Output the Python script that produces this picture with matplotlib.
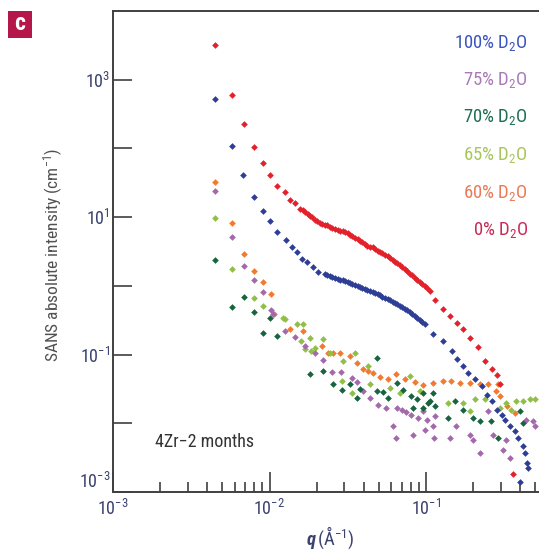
import matplotlib
matplotlib.use("Agg")
import matplotlib.pyplot as plt
from matplotlib import font_manager
from matplotlib.patches import Rectangle
from matplotlib.ticker import NullLocator

# ---------------------------------------------------------------------------
# data: q in 1/Angstrom, intensity in 1/cm
# ---------------------------------------------------------------------------

q_0 = [0.00449, 0.00574, 0.0069, 0.00796, 0.00912, 0.0101, 0.0111, 0.0126, 0.0135, 0.0146,
       0.0157, 0.0163, 0.0169, 0.0175, 0.0181, 0.0188, 0.0195, 0.0202, 0.0210, 0.0218,
       0.0226, 0.0234, 0.0243, 0.0252, 0.0262, 0.0272, 0.0282, 0.0293, 0.0304, 0.0315,
       0.0327, 0.0339, 0.0352, 0.0365, 0.0378, 0.0392, 0.0407, 0.0422, 0.0438, 0.0455,
       0.0472, 0.0490, 0.0508, 0.0527, 0.0547, 0.0568, 0.0589, 0.0611, 0.0633, 0.0657,
       0.0680, 0.0706, 0.0733, 0.0760, 0.0788, 0.0818, 0.0848, 0.0881, 0.0913, 0.0948,
       0.0983, 0.102, 0.106,
       0.114, 0.128, 0.142, 0.158, 0.172, 0.191, 0.215, 0.238, 0.264, 0.284, 0.297, 0.360]
i_0 = [3220, 594, 224, 104, 61, 41.7, 28.8, 23.0, 18.0, 15.9,
       13.3, 12.9, 12.0, 11.0, 10.5, 9.9, 9.20, 8.9, 8.31, 7.9,
       7.78, 7.6, 7.27, 7.0, 6.79, 6.6, 6.35, 6.3, 6.14, 5.8,
       5.55, 5.3, 5.02, 4.8, 4.54, 4.4, 4.10, 3.85, 3.71, 3.62,
       3.47, 3.25, 3.13, 3.0, 2.84, 2.72, 2.56, 2.38, 2.24, 2.15,
       2.03, 1.88, 1.77, 1.62, 1.50, 1.42, 1.31, 1.22, 1.14, 1.08,
       1.00, 0.93, 0.845,
       0.625, 0.461, 0.365, 0.288, 0.236, 0.174, 0.129, 0.080, 0.0614, 0.0502, 0.0371, 0.0018]

q_100 = [0.00449, 0.00574, 0.0068, 0.00791, 0.00905, 0.0101, 0.0111, 0.0128, 0.0139, 0.0149,
         0.0161, 0.0173, 0.0190, 0.0204,
         0.0226, 0.0234, 0.0243, 0.0252, 0.0262, 0.0272, 0.0282, 0.0293, 0.0304, 0.0315,
         0.0327, 0.0339, 0.0352, 0.0365, 0.0378, 0.0392, 0.0407, 0.0422, 0.0438, 0.0455,
         0.0472, 0.0490, 0.0508, 0.0527, 0.0547, 0.0568, 0.0589, 0.0611, 0.0633, 0.0657,
         0.0680, 0.0706, 0.0733, 0.0760, 0.0788, 0.0818, 0.0848, 0.0881, 0.0913, 0.0948, 0.0983,
         0.111, 0.129, 0.146, 0.157, 0.173, 0.186, 0.206, 0.227, 0.244, 0.263, 0.283,
         0.305, 0.320, 0.344, 0.370, 0.389, 0.418, 0.429, 0.440, 0.450, 0.399]
i_100 = [519, 108, 40.4, 19.9, 12.4, 8.69, 6.00, 4.65, 3.62, 3.06,
         2.45, 2.19, 1.85, 1.60,
         1.50, 1.46, 1.40, 1.34, 1.31, 1.27, 1.22, 1.20, 1.18, 1.13,
         1.11, 1.08, 1.03, 0.99, 0.966, 0.94, 0.904, 0.87, 0.845, 0.82,
         0.791, 0.76, 0.740, 0.70, 0.668, 0.645, 0.625, 0.59, 0.565, 0.54,
         0.511, 0.485, 0.461, 0.44, 0.417, 0.39, 0.365, 0.34, 0.319, 0.30, 0.279,
         0.201, 0.157, 0.112, 0.0851, 0.0679, 0.0542, 0.0435, 0.0347, 0.0262, 0.0209, 0.0158,
         0.0134, 0.0113, 0.00904, 0.00764, 0.00610, 0.00461, 0.00368, 0.00263, 0.00222, 0.00142]

q_75 = [0.00449, 0.00574, 0.00687, 0.00796, 0.00912, 0.0102, 0.0106, 0.0126, 0.0145, 0.0169,
        0.0195, 0.0219, 0.0249, 0.0285, 0.0335, 0.0362, 0.0398, 0.0438, 0.0495, 0.0559,
        0.0617, 0.0640, 0.0648, 0.0698, 0.0746, 0.0800, 0.0827, 0.0890, 0.0959, 0.0983,
        0.101, 0.111, 0.112, 0.114, 0.142, 0.156, 0.190, 0.200, 0.220, 0.249,
        0.268, 0.310, 0.326, 0.342, 0.437, 0.483, 0.495]
i_75 = [24.4, 5.07, 1.96, 1.21, 0.826, 0.447, 0.390, 0.220, 0.180, 0.133,
        0.105, 0.0822, 0.0560, 0.0565, 0.0458, 0.0397, 0.0293, 0.0234, 0.0187, 0.0167,
        0.00904, 0.00610, 0.0167, 0.0158, 0.0144, 0.0134, 0.00684, 0.0119, 0.0150, 0.00800,
        0.0113, 0.00904, 0.00610, 0.0127, 0.00610, 0.00904, 0.00684, 0.00578, 0.00368, 0.0150,
        0.00684, 0.00413, 0.00578, 0.00311, 0.0113, 0.0107, 0.00904]

q_70 = [0.00449, 0.00574, 0.00687, 0.00796, 0.00912, 0.0101, 0.0111, 0.0181, 0.0219, 0.0256,
        0.0289, 0.0327, 0.0361, 0.0378, 0.0484, 0.0485, 0.0529, 0.0573, 0.0648, 0.0716,
        0.0802, 0.0827, 0.0870, 0.0959, 0.0962, 0.103, 0.106, 0.111, 0.114, 0.138,
        0.153, 0.172, 0.200, 0.220, 0.262, 0.288, 0.397, 0.417]
i_70 = [2.37, 0.493, 0.690, 0.422, 0.208, 0.341, 0.186, 0.0514, 0.0574, 0.0367,
        0.0310, 0.0367, 0.0234, 0.0320, 0.0897, 0.0300, 0.0284, 0.0234, 0.0387, 0.0310,
        0.0248, 0.0165, 0.0222, 0.0277, 0.0167, 0.0198, 0.0209, 0.0277, 0.0177, 0.0119,
        0.0209, 0.0158, 0.0119, 0.0107, 0.0107, 0.00610, 0.0150, 0.0101]

q_65 = [0.00449, 0.00574, 0.00796, 0.00912, 0.0122, 0.0126, 0.0149, 0.0160, 0.0164, 0.0169,
        0.0181, 0.0185, 0.0195, 0.0219, 0.0243, 0.0289, 0.0296, 0.0335, 0.0352, 0.0426,
        0.0438, 0.0587, 0.0680, 0.0788, 0.0913, 0.138, 0.172, 0.190, 0.205, 0.237,
        0.296, 0.326, 0.351, 0.378, 0.417, 0.460, 0.495]
i_65 = [9.84, 1.75, 0.668, 0.511, 0.344, 0.330, 0.282, 0.157, 0.279, 0.120,
        0.176, 0.114, 0.126, 0.167, 0.106, 0.0410, 0.0804, 0.0277, 0.106, 0.0679,
        0.0367, 0.0330, 0.0277, 0.0485, 0.0293, 0.0198, 0.0198, 0.0150, 0.0222, 0.0222,
        0.0167, 0.0198, 0.0158, 0.0209, 0.0209, 0.0222, 0.0222]

q_60 = [0.00449, 0.00574, 0.00687, 0.00796, 0.00912, 0.0102, 0.0107, 0.0135, 0.0164, 0.0215,
        0.0237, 0.0256, 0.0282, 0.0327, 0.0361, 0.0398, 0.0428, 0.0461, 0.0508, 0.0570,
        0.0640, 0.0732, 0.0848, 0.0959, 0.111, 0.128, 0.145, 0.164, 0.190, 0.220,
        0.249, 0.281, 0.288, 0.296, 0.327, 0.369]
i_60 = [32.2, 8.11, 2.93, 1.66, 1.14, 0.757, 0.390, 0.236, 0.220, 0.133,
        0.106, 0.106, 0.106, 0.0951, 0.0759, 0.0607, 0.0574, 0.0542, 0.0469, 0.0439,
        0.0525, 0.0439, 0.0397, 0.0358, 0.0387, 0.0410, 0.0410, 0.0387, 0.0387, 0.0375,
        0.0375, 0.0293, 0.0367, 0.0248, 0.0177, 0.0140]

series_labels = ["100% D$_2$O", "75% D$_2$O", "70% D$_2$O", "65% D$_2$O", "60% D$_2$O", "0% D$_2$O"]
label_colors = ["#3b55c0", "#a87ab8", "#1f6e55", "#a6c65a", "#e97a55", "#c82a55"]

x_ticks = [1e-3, 1e-2, 1e-1]
x_tick_labels = ["$10^{-3}$", "$10^{-2}$", "$10^{-1}$"]
y_ticks = [1e-3, 1e-2, 1e-1, 1e0, 1e1, 1e2, 1e3]
y_tick_labels = ["$10^{-3}$", "", "$10^{-1}$", "", "$10^{1}$", "", "$10^{3}$"]

# ---------------------------------------------------------------------------
# fonts: prefer something narrow, like the original
# ---------------------------------------------------------------------------

names = {f.name for f in font_manager.fontManager.ttflist}
FONT = "DejaVu Sans"
for cand in ["Liberation Sans Narrow", "Roboto Condensed", "Roboto", "Liberation Sans"]:
    if cand in names:
        FONT = cand
        break
plt.rcParams["font.family"] = [FONT, "DejaVu Sans"]
plt.rcParams["mathtext.fontset"] = "custom"
plt.rcParams["mathtext.rm"] = FONT
plt.rcParams["mathtext.it"] = FONT + ":italic:bold"
plt.rcParams["mathtext.bf"] = FONT + ":bold"

W, H = 539, 551
TXT = "#3b4270"


def fx(px):
    return px / W


def fy(py):
    return 1 - py / H


fig = plt.figure(figsize=(W / 100, H / 100), dpi=100)
ax = fig.add_axes([fx(113), fy(492), (W - 113) / W, (492 - 11) / H])

series = [
    (q_60, i_60, "#f07a2e"),
    (q_65, i_65, "#8fbf45"),
    (q_75, i_75, "#a469ad"),
    (q_70, i_70, "#17643e"),
    (q_0, i_0, "#e3212b"),
    (q_100, i_100, "#2e3d96"),
]
for q, inten, col in series:
    ax.plot(q, inten, linestyle="none", marker="D", ms=3.4, mew=0, color=col)

ax.set_xscale("log")
ax.set_yscale("log")
ax.set_xlim(1e-3, 0.527)
ax.set_ylim(1e-3, 1e4)

ax.set_xticks(x_ticks)
ax.set_xticklabels(x_tick_labels)
ax.set_xticks([2e-3, 3e-3, 4e-3, 5e-3, 6e-3, 7e-3, 8e-3, 9e-3,
               2e-2, 3e-2, 4e-2, 5e-2, 6e-2, 7e-2, 8e-2, 9e-2,
               2e-1, 3e-1, 4e-1, 5e-1], minor=True)
ax.set_xticklabels([], minor=True)
ax.set_yticks(y_ticks)
ax.set_yticklabels(y_tick_labels)
ax.yaxis.set_minor_locator(NullLocator())
# the lowest y label sits just above the corner, as in the original
ax.get_yticklabels()[0].set_va("bottom")

ax.tick_params(axis="y", which="major", direction="in", length=13.5, width=1.2,
               pad=2, labelsize=13, labelcolor=TXT, color="#404040")
ax.tick_params(axis="x", which="major", direction="in", length=14.4, width=1.2,
               pad=5, labelsize=13, labelcolor=TXT, color="#404040")
ax.tick_params(axis="x", which="minor", direction="in", length=7.2, width=1.2,
               color="#404040")

for side in ["left", "bottom", "top"]:
    ax.spines[side].set_color("#404040")
    ax.spines[side].set_linewidth(1.4)
ax.spines["right"].set_visible(False)

# axis labels
fig.text(fx(53), fy(255), "SANS absolute intensity (cm$^{-1}$)", rotation=90,
         ha="center", va="center", fontsize=12.5, color="#505050")
fig.text(fx(330), fy(538), "$q\\,$(Å$^{-1}$)", ha="center", va="center",
         fontsize=13.5, color=TXT)

# coloured series labels
label_y = [43, 80, 117, 155, 193, 230]
for lab, col, yy in zip(series_labels, label_colors, label_y):
    fig.text(fx(528), fy(yy), lab, ha="right", va="center", fontsize=13.5, color=col)

fig.text(fx(155), fy(442), "4Zr\u22122 months", ha="left", va="center",
         fontsize=13, color="#333333")

# panel letter
fig.patches.append(Rectangle((fx(8), fy(38)), 24 / W, 27 / H, transform=fig.transFigure,
                             facecolor="#b5174b", edgecolor="none"))
fig.text(fx(20), fy(24), "c", ha="center", va="center", fontsize=17,
         fontweight="bold", color="white")

fig.savefig("out.png", dpi=100)
